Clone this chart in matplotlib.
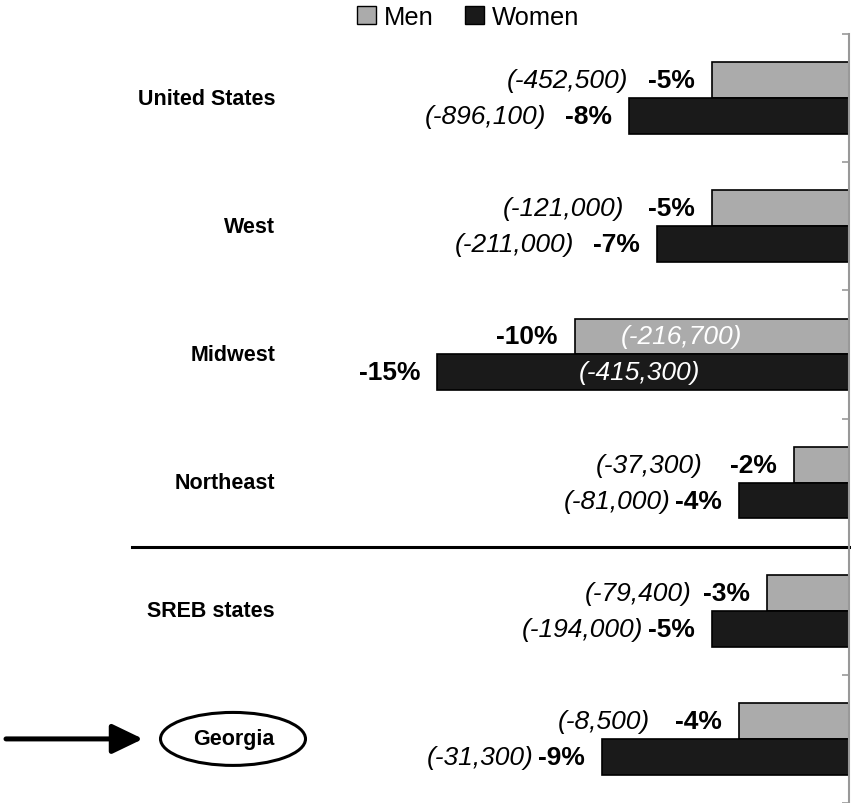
import matplotlib
matplotlib.use("Agg")
import matplotlib.pyplot as plt
import numpy as np
from matplotlib.patches import Patch, Ellipse
from matplotlib.lines import Line2D
from matplotlib.transforms import blended_transform_factory

plt.rcParams['font.family'] = ['Liberation Sans', 'DejaVu Sans']

regions = ["United States", "West", "Midwest", "Northeast", "SREB states", "Georgia"]
men_pct = [-5, -5, -10, -2, -3, -4]
women_pct = [-8, -7, -15, -4, -5, -9]
men_count = [-452500, -121000, -216700, -37300, -79400, -8500]
women_count = [-896100, -211000, -415300, -81000, -194000, -31300]

# px gaps between the count and the percent label (as in the original)
men_gap = [20, 24, 0, 28, 11, 25]
women_gap = [19, 19, 0, 5, 5, 5]
inside_rows = ["Midwest"]

W, H = 851, 804
PX = 72 / 100  # points per pixel

fig = plt.figure(figsize=(W / 100, H / 100), dpi=100)
ax = fig.add_axes([0, 0, 849 / W, 1 - 35 / H])

men_color = '#ABABAB'
women_color = '#1A1A1A'

y = np.arange(len(regions)) + 0.5
h = 0.28
ax.barh(y - h / 2, men_pct, height=h, color=men_color, edgecolor='black', linewidth=1.2)
ax.barh(y + h / 2, women_pct, height=h, color=women_color, edgecolor='black', linewidth=1.2)

ax.set_xlim(-849 / 27.45, 0)
ax.set_ylim(len(regions), 0)

for s in ["left", "top", "bottom"]:
    ax.spines[s].set_visible(False)
ax.spines["right"].set_color('#999999')
ax.spines["right"].set_linewidth(1.5)
ax.set_xticks([])
ax.yaxis.tick_right()
ax.set_yticks(np.arange(len(regions) + 1))
ax.tick_params(axis='y', direction='in', length=5, width=1.2, color='#999999', labelright=False)

ytr = ax.get_yaxis_transform()
cat_size = 15.5


def put_labels(yy, pct, count, gap, inside, frac):
    p = ax.annotate(f'{pct}%', xy=(pct, yy), xytext=(-17 * PX, 0), textcoords='offset points',
                    ha='right', va='center', fontsize=19, fontweight='bold')
    if inside:
        ax.text(pct * frac, yy, f'({count:,})', ha='center', va='center', fontsize=19,
                style='italic', color='white')
    else:
        ax.annotate(f'({count:,})', xy=(0, 0.5), xycoords=p, xytext=(-gap * PX, 0),
                    textcoords='offset points', ha='right', va='center', fontsize=19, style='italic')


for i, name in enumerate(regions):
    inside = name in inside_rows
    put_labels(y[i] - h / 2, men_pct[i], men_count[i], men_gap[i], inside, 0.61)
    put_labels(y[i] + h / 2, women_pct[i], women_count[i], women_gap[i], inside, 0.51)

    if name == "Georgia":
        ax.text(234 / 849, y[i], name, transform=ytr, ha='center', va='center',
                fontsize=cat_size, fontweight='bold')
        ax.add_patch(Ellipse((233 / 849, y[i]), 145 / 849, 53 / 128.2, transform=ytr,
                             facecolor='none', edgecolor='black', linewidth=2.2, clip_on=False))
        ax.annotate('', xy=(143 / 849, y[i]), xytext=(6 / 849, y[i]), xycoords=ytr,
                    arrowprops=dict(arrowstyle='-|>,head_length=18.7,head_width=9',
                                    mutation_scale=1, lw=3.6, color='black',
                                    shrinkA=0, shrinkB=0))
    else:
        ax.text(275 / 849, y[i], name, transform=ytr, ha='right', va='center',
                fontsize=cat_size, fontweight='bold')

# separator between census regions and SREB
sep = Line2D([132 / W, 1], [4, 4], transform=blended_transform_factory(fig.transFigure, ax.transData),
             color='black', linewidth=2.2, clip_on=False)
ax.add_artist(sep)

fig.legend(handles=[Patch(facecolor=men_color, edgecolor='black'),
                    Patch(facecolor=women_color, edgecolor='black')],
           labels=['Men', 'Women'], loc='center', bbox_to_anchor=(468 / W, 1 - 18 / H),
           ncol=2, frameon=False, fontsize=18.4, handlelength=0.78, handleheight=0.67,
           handletextpad=0.3, columnspacing=1.2, borderpad=0)

fig.savefig("out.png", dpi=100)
